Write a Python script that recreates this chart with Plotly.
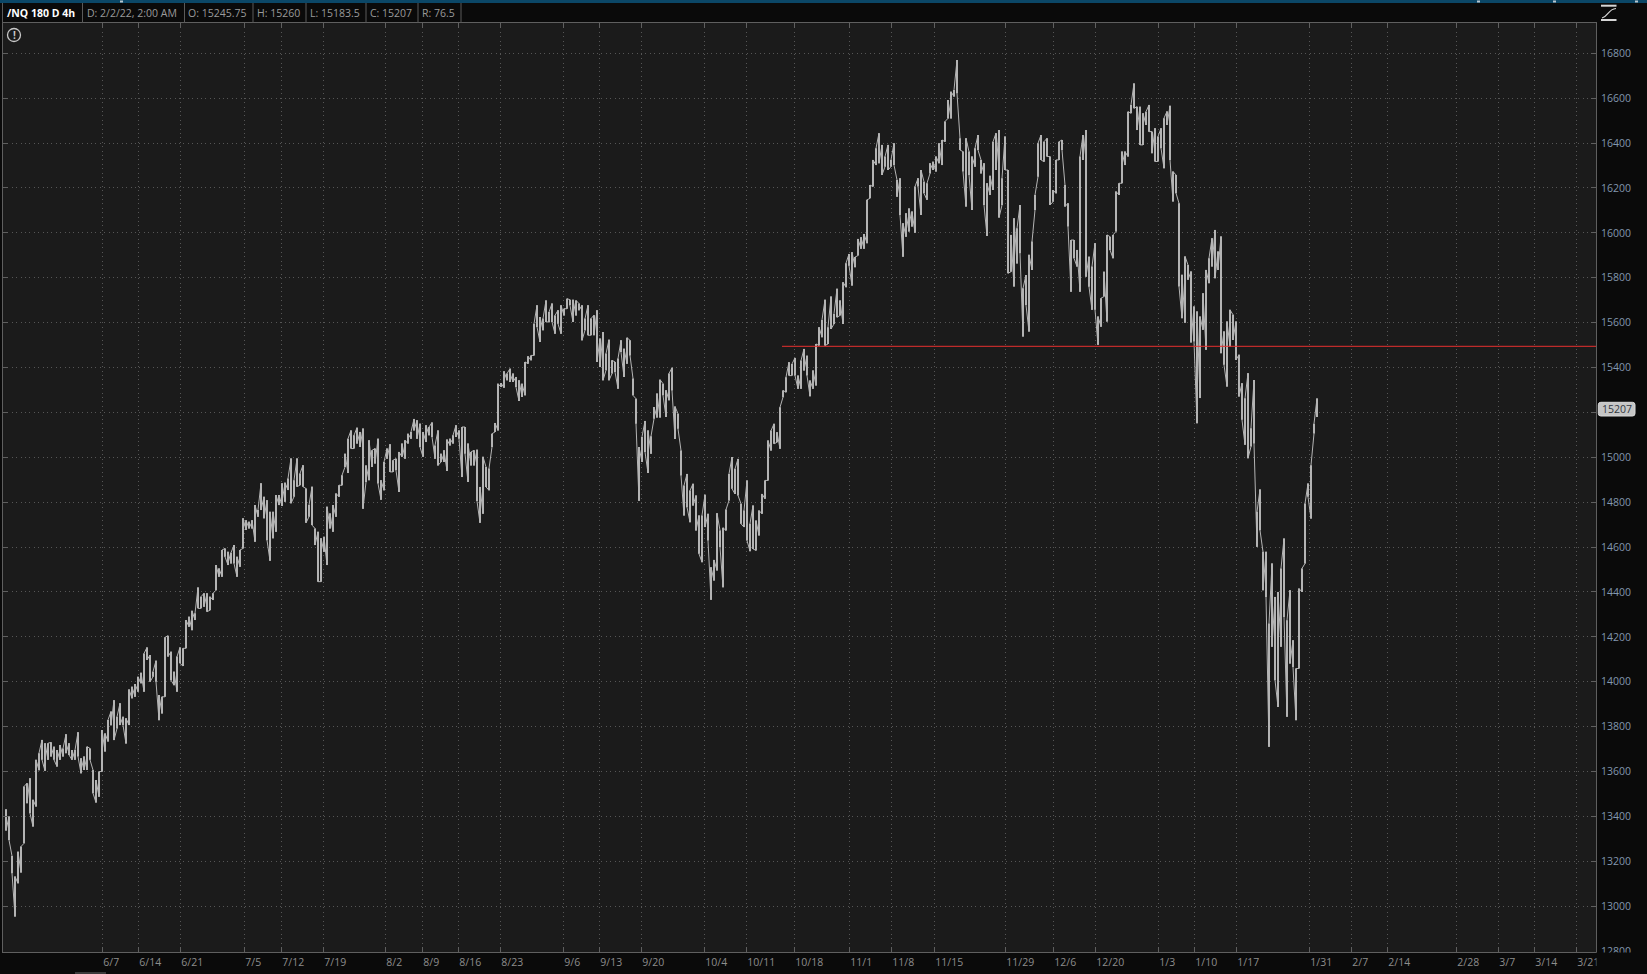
import plotly.graph_objects as go

highs = [
13432,13400,13224,13132,13243,13266,13533,13548,13570,13474,13652,13682,13741,13726,13726,13730,13711,13696,13718,13703,
13766,13726,13696,13696,13775,13659,13667,13711,13703,13607,13562,13600,13785,13770,13830,13867,13918,13844,13904,13844,
13837,13966,13978,13990,14022,14040,14126,14153,14119,14045,14094,13941,13933,14198,14205,14134,14045,14112,14153,14149,
14275,14290,14316,14305,14420,14379,14394,14394,14379,14394,14520,14505,14587,14594,14579,14575,14609,14557,14587,14728,
14720,14713,14720,14787,14765,14884,14824,14809,14757,14757,14832,14832,14884,14887,14906,14995,14898,14995,14928,14965,
14861,14787,14869,14683,14668,14639,14646,14780,14750,14787,14839,14876,
14920,15016,15083,15120,15098,15132,15113,15128,14964,15076,15031,15039,15083,14898,14979,15039,15058,14987,14994,15024,
15061,15076,15105,15113,15171,15165,15150,15113,15143,15135,15155,15053,15120,15016,15031,15079,15083,15098,15143,15120,
15135,15135,15061,15024,15031,15034,14868,15002,14957,14950,15105,15153,15328,15331,15383,15373,15395,15373,15358,15343,
15328,15425,15450,15454,15595,15677,15625,15618,15699,15647,15685,15632,15655,15677,15662,15707,15702,15702,15699,15685,
15677,15618,15677,15618,15633,15655,15529,15558,15462,15524,15432,15425,15440,15521,15484,15533,15521,15351,15261,15046,
15091,15162,15120,15094,15224,15284,15346,15328,15299,15373,
15399,15226,15194,15030,14874,14926,14852,14882,14830,14741,14741,14833,14748,14510,14543,14751,14674,14686,14767,14926,
15001,14949,14993,14793,14763,14897,14704,14785,14718,14763,14837,14897,15075,15119,15149,15112,15223,15298,15357,15424,
15416,15443,15364,15431,15483,15453,15342,15387,15505,15580,15612,15702,15580,15716,15639,15751,15699,15780,15865,15906,
15914,15892,15973,15981,15995,16147,
16213,16325,16377,16444,16392,16340,16392,16325,16399,16236,16243,16043,16087,16109,16095,16206,16243,16280,16228,16221,
16310,16317,16340,16399,16414,16496,16592,16629,16637,16770,16421,16362,16421,16362,16340,16377,16436,16325,16310,16221,
16254,16406,16444,16458,16243,16429,16280,15991,16065,16020,16124,15753,15812,15902,15961,16169,16399,16436,16406,16421,
16340,16191,16325,16406,16414,16213,16132,15968,15968,15924,16340,16436,16458,15894,15850,15954,15627,15709,15827,15991,
15983,15991,16184,16221,16362,16362,16540,16570,16666,16562,16562,16533,16540,16570,
16451,16466,16429,16466,16511,16541,16566,16273,16258,16132,15813,15895,15857,15828,15672,15650,15627,15731,15835,15887,
15976,16013,15917,15984,15561,15605,15657,15635,15605,15457,15330,15263,15375,15130,
15344,14757,14857,14579,14579,14260,14527,14378,14400,14505,14638,14274,14408,14185,14059,14415,14505,14794,14883,14965,
15150,15262,
]
lows = [
13337,13295,13147,12954,13102,13150,13280,13459,13414,13355,13444,13606,13652,13603,13652,13667,13652,13622,13652,13667,
13682,13674,13652,13652,13667,13592,13607,13607,13652,13503,13462,13488,13600,13689,13734,13806,13740,13792,13807,13807,
13725,13807,13926,13933,13956,13993,13956,14097,14000,14022,14000,13829,13859,13933,14112,14007,13985,13956,14082,14070,
14149,14245,14230,14275,14327,14327,14334,14312,14319,14364,14408,14468,14468,14557,14520,14527,14527,14468,14512,14594,
14676,14683,14683,14624,14735,14765,14728,14631,14539,14639,14668,14787,14783,14802,14854,14795,14824,14869,14876,14869,
14708,14735,14698,14609,14446,14446,14579,14520,14683,14668,14735,14824,
14875,14957,14930,15039,15039,15061,15046,14771,14890,14898,14957,14972,14883,14811,14853,14994,14935,14935,14942,14846,
15002,14994,15061,15083,15120,15083,15046,15002,15068,15098,15091,14994,14964,14979,14979,14939,15053,15061,15091,15083,
14912,15016,14890,14964,14964,14805,14708,14749,14868,14853,15046,15113,15120,15313,15310,15343,15336,15336,15313,15251,
15269,15276,15417,15432,15454,15581,15514,15566,15603,15603,15603,15551,15595,15551,15632,15662,15677,15603,15632,15655,
15521,15566,15544,15544,15544,15425,15402,15343,15388,15343,15373,15380,15306,15469,15358,15417,15454,15276,15150,14806,
14979,15024,14930,15016,15172,15177,15177,15276,15180,15254,
15298,15082,15127,14919,14741,14778,14711,14785,14674,14570,14533,14689,14629,14365,14451,14496,14600,14421,14674,14808,
14860,14837,14830,14704,14689,14629,14582,14592,14585,14652,14748,14815,14897,15030,15060,15067,15038,15268,15290,15364,
15364,15364,15305,15305,15387,15364,15272,15305,15320,15498,15535,15498,15505,15572,15594,15624,15632,15594,15758,15854,
15765,15847,15899,15929,15929,15954,
16154,16206,16302,16310,16258,16295,16280,16295,16302,16161,16080,15894,15983,16006,16028,16001,16206,16080,16176,16147,
16265,16280,16273,16310,16302,16406,16510,16510,16607,16622,16369,16273,16117,16258,16102,16295,16369,16265,16124,15986,
16169,16191,16280,16068,16124,16280,15820,15827,15761,15864,15909,15538,15679,15560,15835,16102,16250,16325,16317,16340,
16124,16139,16176,16325,16369,16117,16028,15738,15887,15850,15738,16325,15805,15760,15657,15657,15501,15582,15716,15605,
15924,15887,16006,16169,16221,16302,16340,16533,16555,16458,16392,16392,16481,16451,
16355,16318,16318,16377,16288,16481,16325,16140,16177,15761,15620,15600,15791,15512,15516,15152,15264,15568,15479,15776,
15850,15798,15835,15464,15412,15315,15494,15523,15434,15271,15167,15056,14996,15048,
15061,14601,14675,14408,14378,13710,14156,14007,13888,14156,14289,13844,14081,14066,13829,14059,14400,14527,14824,14727,
15106,15180,
]
bar_numbers = list(range(len(highs)))
spreads = [h - l for h, l in zip(highs, lows)]

tick_slots = [32.1,44.1,58.1,79.43,91.77,105.77,126.43,138.77,150.77,164.77,185.77,197.77,211.77,232.77,246.77,262.77,
              281.1,295.1,309.43,333.1,349.1,363.1,384.1,396.1,410.1,434.43,448.43,460.43,483.43,497.43,509.43,523.43]
tick_labels = ["6/7","6/14","6/21","7/5","7/12","7/19","8/2","8/9","8/16","8/23","9/6","9/13","9/20","10/4","10/11","10/18",
               "11/1","11/8","11/15","11/29","12/6","12/20","1/3","1/10","1/17","1/31","2/7","2/14","2/28","3/7","3/14","3/21"]
price_ticks = list(range(12800, 17000, 200))

level_x = [258.67, 530]
level_y = [15494.6, 15494.6]
last_close = 15207

header_cells = ["D: 2/2/22, 2:00 AM", "O: 15245.75", "H: 15260", "L: 15183.5", "C: 15207", "R: 76.5"]
header_title = "/NQ 180 D 4h"

W, H = 1647, 974
L, R, T, B = 3, 1596, 23, 952
FONT = "Open Sans"
def X(p): return (p - L) / (R - L)
def Y(p): return (B - p) / (B - T)

# each bar's range is walked low-to-high or high-to-low, following the direction of the next bar,
# so the thin stroke joins the bars the way the dense original bars do
path_x, path_y = [], []
for i, (h, l) in enumerate(zip(highs, lows)):
    rising = i + 1 < len(highs) and highs[i + 1] + lows[i + 1] >= h + l
    path_x += [bar_numbers[i], bar_numbers[i]]
    path_y += [l, h] if rising else [h, l]

fig = go.Figure()
fig.add_trace(go.Bar(x=bar_numbers, y=spreads, base=lows, width=0.62,
                     marker=dict(color="#b4b4b4", line=dict(width=0)), hoverinfo="skip"))
fig.add_trace(go.Scatter(x=path_x, y=path_y, mode="lines", line=dict(color="#b4b4b4", width=1),
                         hoverinfo="skip"))
fig.add_trace(go.Scatter(x=level_x, y=level_y, mode="lines",
                         line=dict(color="#e8302f", width=1), hoverinfo="skip"))

shapes, annos = [], []
def rect(x0, y0, x1, y1, color, layer="above"):
    shapes.append(dict(type="rect", xref="paper", yref="paper", x0=X(x0), x1=X(x1), y0=Y(y0), y1=Y(y1),
                       fillcolor=color, line=dict(width=0), layer=layer))
def seg(x0, y0, x1, y1, color, w=1):
    shapes.append(dict(type="line", xref="paper", yref="paper", x0=X(x0), x1=X(x1), y0=Y(y0), y1=Y(y1),
                       line=dict(color=color, width=w)))

# window chrome
rect(0, 0, W, 3, "#0b4767")
for px in (120, 1477, 1553, 1635):
    rect(px, 0.5, px + 3, 2.5, "#b9c6cf")
rect(1596.5, 952.5, W, H, "#0a0a0a")
rect(75, 972, 106, H, "#3a3a3a")

# header cells
seps = [82.5, 184.5, 253, 306, 366, 418, 461]
starts = [84.5, 186, 255, 308, 368, 420]
seg(2.5, 3, 2.5, 23, "#5a5a5a")
for s in seps:
    seg(s, 3, s, 23, "#5a5a5a")
annos.append(dict(xref="paper", yref="paper", x=X(4.5), y=Y(13), text=header_title, showarrow=False, xanchor="left",
                  yanchor="middle", font=dict(family=FONT, size=10.5, color="#ffffff", weight="bold")))
for st, txt in zip(starts, header_cells):
    annos.append(dict(xref="paper", yref="paper", x=X(st), y=Y(13), text=txt, showarrow=False, xanchor="left",
                      yanchor="middle", font=dict(family=FONT, size=10.5, color="#9a9a9a")))

# warning icon
shapes.append(dict(type="circle", xref="paper", yref="paper", x0=X(7.5), x1=X(20.5), y0=Y(28.5), y1=Y(41.5),
                   line=dict(color="#c8c8c8", width=1.3)))
annos.append(dict(xref="paper", yref="paper", x=X(14), y=Y(35), text="!", showarrow=False, xanchor="center",
                  yanchor="middle", font=dict(family=FONT, size=10, color="#c8c8c8", weight="bold")))

# study icon, top right
seg(1601, 5.7, 1616.5, 5.7, "#d6d6d6", 2)
seg(1601, 20, 1616.5, 20, "#d6d6d6", 2)
shapes.append(dict(type="path", xref="paper", yref="paper",
                   path=f"M {X(1602)} {Y(18)} C {X(1608)} {Y(17)} {X(1608)} {Y(9)} {X(1616)} {Y(8.5)}",
                   line=dict(color="#d6d6d6", width=1.2)))

# last price tag: a rounded plate with the real close as text on it
tx0, tx1, ty0, ty1, r = 1598.3, 1635, 402.3, 416, 2.5
shapes.append(dict(type="path", xref="paper", yref="paper", fillcolor="#c6c6c6", line=dict(color="#dadada", width=1),
                   path=(f"M {X(tx0+r)} {Y(ty0)} L {X(tx1-r)} {Y(ty0)} Q {X(tx1)} {Y(ty0)} {X(tx1)} {Y(ty0+r)} "
                         f"L {X(tx1)} {Y(ty1-r)} Q {X(tx1)} {Y(ty1)} {X(tx1-r)} {Y(ty1)} "
                         f"L {X(tx0+r)} {Y(ty1)} Q {X(tx0)} {Y(ty1)} {X(tx0)} {Y(ty1-r)} "
                         f"L {X(tx0)} {Y(ty0+r)} Q {X(tx0)} {Y(ty0)} {X(tx0+r)} {Y(ty0)} Z")))
annos.append(dict(xref="paper", yref="y", x=X((tx0 + tx1) / 2), y=last_close, text=str(last_close), showarrow=False,
                  xanchor="center", yanchor="middle", yshift=1.5,
                  font=dict(family=FONT, size=10.5, color="#33383f")))

GRID = "#565656"
fig.update_layout(
    width=W, height=H, autosize=False, showlegend=False,
    margin=dict(l=L, r=W - R, t=T, b=H - B, pad=0, autoexpand=False),
    paper_bgcolor="#0a0a0a", plot_bgcolor="#1b1b1b",
    shapes=shapes, annotations=annos, hovermode=False,
    xaxis=dict(range=[-1, 530], tickmode="array", tickvals=tick_slots, ticktext=tick_labels,
               ticks="inside", ticklen=5, tickcolor="#5f5f5f", tickwidth=1,
               ticklabelposition="outside right", tickangle=0,
               tickfont=dict(family=FONT, size=10.5, color="#8d8d8d"),
               showline=True, linecolor="#5f5f5f", linewidth=1, mirror="allticks",
               showgrid=True, gridcolor=GRID, gridwidth=1, griddash="1px,3.4px", zeroline=False),
    yaxis=dict(range=[12796, 16935], side="right", tickmode="array", tickvals=price_ticks,
               ticktext=[str(v) for v in price_ticks],
               ticks="inside", ticklen=5, tickcolor="#5f5f5f", tickwidth=1, ticklabelstandoff=2,
               tickfont=dict(family=FONT, size=10.5, color="#8297ae"),
               showline=True, linecolor="#5f5f5f", linewidth=1, mirror="allticks",
               showgrid=True, gridcolor=GRID, gridwidth=1, griddash="1px,3.4px", zeroline=False),
)

fig.write_html("out.html", config={"displayModeBar": False},
               post_script="document.body.style.margin='0';document.body.style.overflow='hidden';document.body.style.background='#0a0a0a';")
